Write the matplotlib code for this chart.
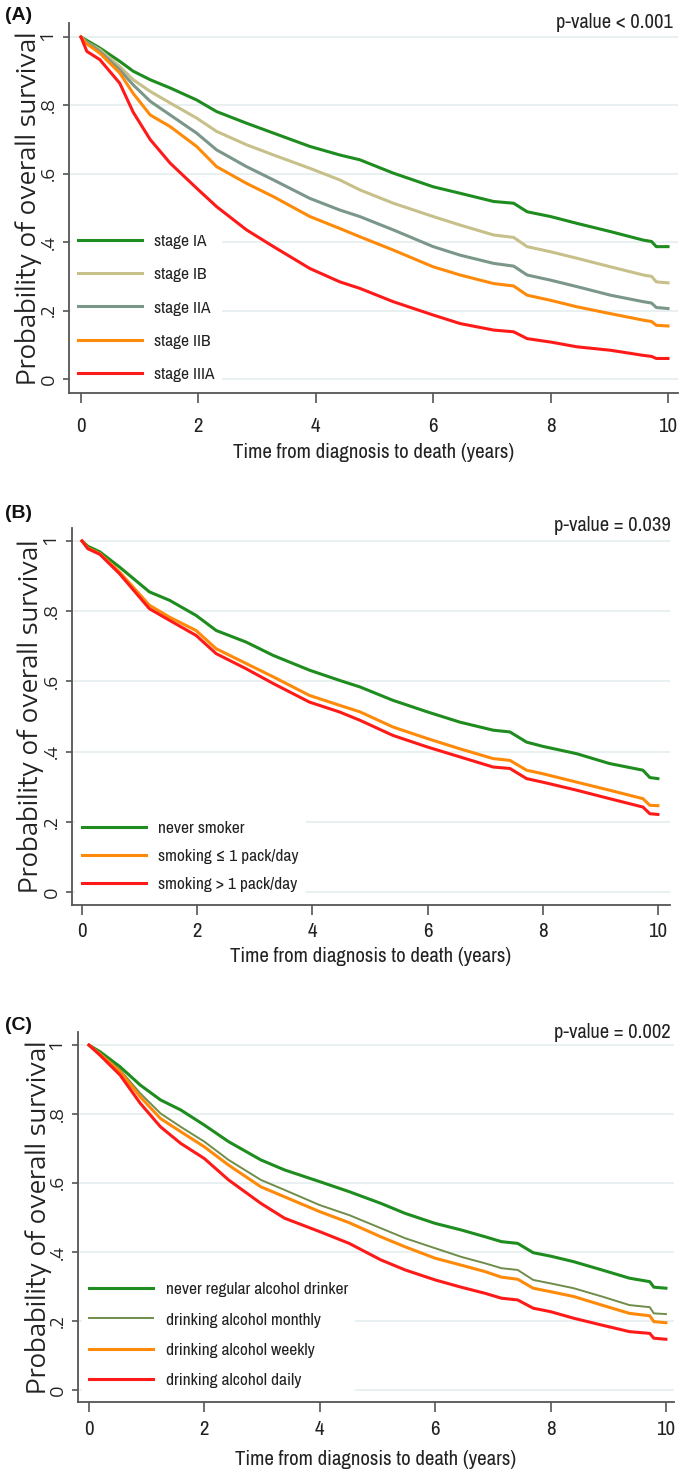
import matplotlib
matplotlib.use("Agg")
import matplotlib.pyplot as plt

# ---- data ----
x_ticks = [0, 2, 4, 6, 8, 10]
y_ticks = [0, 0.2, 0.4, 0.6, 0.8, 1.0]
y_tick_labels = ["0", ".2", ".4", ".6", ".8", "1"]

# panel A: stage
t_a = [0, 0.1, 0.32, 0.66, 0.89, 1.18, 1.52, 1.97, 2.31, 2.82, 3.28, 3.9, 4.41,
       4.75, 5.32, 6.0, 6.46, 7.03, 7.37, 7.6, 8.0, 8.45, 9.02, 9.58, 9.72, 9.8, 10.0]
stage_ia = [1, 0.99, 0.968, 0.929, 0.90, 0.875, 0.851, 0.816, 0.782, 0.748, 0.719, 0.680, 0.655,
            0.641, 0.602, 0.562, 0.543, 0.519, 0.514, 0.489, 0.475, 0.455, 0.431, 0.406, 0.402, 0.387, 0.387]
stage_ib = [1, 0.985, 0.963, 0.914, 0.875, 0.841, 0.807, 0.763, 0.724, 0.685, 0.655, 0.616, 0.582,
            0.553, 0.514, 0.475, 0.450, 0.421, 0.414, 0.387, 0.372, 0.353, 0.328, 0.304, 0.300, 0.284, 0.281]
stage_iia = [1, 0.985, 0.958, 0.904, 0.86, 0.812, 0.772, 0.719, 0.670, 0.621, 0.582, 0.528, 0.494,
             0.475, 0.436, 0.387, 0.362, 0.338, 0.330, 0.304, 0.289, 0.270, 0.245, 0.226, 0.222, 0.209, 0.206]
stage_iib = [1, 0.98, 0.953, 0.895, 0.835, 0.772, 0.738, 0.680, 0.621, 0.572, 0.533, 0.475, 0.440,
             0.416, 0.377, 0.328, 0.304, 0.279, 0.272, 0.245, 0.230, 0.211, 0.191, 0.172, 0.168, 0.157, 0.155]
stage_iiia = [1, 0.958, 0.934, 0.865, 0.780, 0.700, 0.631, 0.558, 0.504, 0.436, 0.387, 0.323, 0.284,
              0.265, 0.226, 0.187, 0.162, 0.143, 0.138, 0.118, 0.108, 0.094, 0.084, 0.069, 0.066, 0.060, 0.060]

# panel B: smoking
t_b = [0, 0.1, 0.31, 0.65, 1.17, 1.52, 1.98, 2.33, 2.85, 3.32, 3.95, 4.47, 4.83,
       5.40, 6.0, 6.56, 7.14, 7.43, 7.72, 8.0, 8.59, 9.16, 9.74, 9.86, 10.0]
never_smoker = [1, 0.985, 0.969, 0.926, 0.855, 0.831, 0.788, 0.745, 0.712, 0.674, 0.632, 0.603, 0.584,
                0.546, 0.513, 0.484, 0.461, 0.456, 0.427, 0.415, 0.394, 0.366, 0.347, 0.326, 0.323]
smoke_le1 = [1, 0.98, 0.964, 0.912, 0.817, 0.783, 0.745, 0.693, 0.651, 0.613, 0.560, 0.532, 0.513,
             0.470, 0.437, 0.408, 0.380, 0.375, 0.347, 0.337, 0.313, 0.290, 0.266, 0.247, 0.246]
smoke_gt1 = [1, 0.978, 0.962, 0.907, 0.807, 0.774, 0.731, 0.679, 0.636, 0.594, 0.541, 0.513, 0.489,
             0.446, 0.413, 0.385, 0.356, 0.352, 0.323, 0.313, 0.290, 0.266, 0.242, 0.223, 0.221]

# panel C: alcohol
t_c = [0, 0.19, 0.54, 0.89, 1.24, 1.59, 2.0, 2.42, 2.98, 3.39, 4.0, 4.51, 5.06, 5.48,
       6.0, 6.45, 6.87, 7.15, 7.43, 7.70, 8.0, 8.4, 8.89, 9.37, 9.72, 9.79, 10.0]
never_drinker = [1, 0.981, 0.937, 0.884, 0.841, 0.812, 0.768, 0.720, 0.667, 0.638, 0.604, 0.575, 0.541, 0.512,
                 0.483, 0.464, 0.444, 0.430, 0.425, 0.398, 0.388, 0.372, 0.348, 0.324, 0.314, 0.298, 0.295]
alc_monthly = [1, 0.976, 0.928, 0.860, 0.802, 0.763, 0.720, 0.667, 0.609, 0.580, 0.536, 0.507, 0.469, 0.440,
               0.411, 0.386, 0.367, 0.353, 0.348, 0.319, 0.309, 0.295, 0.271, 0.246, 0.240, 0.222, 0.220]
alc_weekly = [1, 0.974, 0.923, 0.850, 0.787, 0.749, 0.705, 0.652, 0.589, 0.560, 0.517, 0.485, 0.444, 0.415,
              0.382, 0.362, 0.343, 0.327, 0.321, 0.295, 0.285, 0.271, 0.246, 0.222, 0.215, 0.198, 0.195]
alc_daily = [1, 0.971, 0.913, 0.831, 0.763, 0.715, 0.671, 0.609, 0.541, 0.498, 0.459, 0.425, 0.377, 0.348,
             0.319, 0.298, 0.280, 0.266, 0.261, 0.237, 0.227, 0.208, 0.188, 0.169, 0.164, 0.150, 0.147]

# ---- style ----
GREEN = "#1e8c1e"
TAN = "#c8c08a"
GRAY = "#7a978a"
ORANGE = "#ff8a0a"
RED = "#ff1a1a"
OLIVE = "#6f8d4a"
SPINE = "#555555"
TXT = "#222222"

NARROW = ["Archivo Narrow", "Roboto Condensed", "DejaVu Sans"]
WIDE = ["Encode Sans Semi Expanded", "DejaVu Sans"]
YLAB = ["Encode Sans Expanded", "Encode Sans Semi Expanded", "DejaVu Sans"]
BOLD = ["Liberation Sans", "DejaVu Sans"]

W, H = 683, 1475
fig = plt.figure(figsize=(W / 100, H / 100), dpi=100)


def add_axes(l, r, t, b):
    return fig.add_axes([l / W, 1 - b / H, (r - l) / W, (b - t) / H])


def style(ax, xlim, ylim, xpad, ylab_x, xlab_y):
    ax.set_xlim(*xlim)
    ax.set_ylim(*ylim)
    for s in ["top", "right"]:
        ax.spines[s].set_visible(False)
    for s in ["left", "bottom"]:
        ax.spines[s].set_color(SPINE)
        ax.spines[s].set_linewidth(1.3)
    ax.set_xticks(x_ticks)
    ax.set_xticklabels([str(v) for v in x_ticks], fontfamily=NARROW, fontsize=15, color=TXT)
    ax.set_yticks(y_ticks)
    ax.set_yticklabels(y_tick_labels, rotation=90, va="center", fontfamily=WIDE,
                       fontsize=12.5, color=TXT)
    ax.tick_params(axis="x", length=7, width=1.2, color=SPINE, pad=xpad)
    ax.tick_params(axis="y", length=4, width=1.2, color=SPINE, pad=4)
    ax.grid(axis="y", color="#e6eff1", lw=1.3)
    ax.set_axisbelow(True)
    ax.set_xlabel("Time from diagnosis to death (years)", fontfamily=NARROW,
                  fontsize=15, color=TXT, va="top")
    ax.xaxis.set_label_coords(0.5, xlab_y)
    ax.set_ylabel("Probability of overall survival", fontfamily=YLAB,
                  fontsize=17.5, color=TXT, va="center")
    ax.yaxis.set_label_coords(ylab_x, 0.5)


def legend(ax, anchor, spacing):
    leg = ax.legend(loc="lower left", bbox_to_anchor=anchor, borderaxespad=0,
                    frameon=True, facecolor="white", edgecolor="none", framealpha=1,
                    fancybox=False, handlelength=3.7, handletextpad=0.7,
                    labelspacing=spacing, borderpad=0.4,
                    prop={"family": NARROW, "size": 12.5})
    for tx in leg.get_texts():
        tx.set_color(TXT)
    return leg


def panel_text(letter, y_letter, pval, x_p, y_p):
    fig.text(5 / W, 1 - y_letter / H, letter, fontfamily=BOLD, fontweight="bold",
             fontsize=14, va="center", ha="left", color="#111111")
    fig.text(x_p / W, 1 - y_p / H, pval, fontfamily=NARROW, fontsize=14.8,
             va="center", ha="right", color=TXT)


# panel A
ax = add_axes(69, 678, 23, 393)
ax.plot(t_a, stage_ia, color=GREEN, lw=2.2, label="stage IA")
ax.plot(t_a, stage_ib, color=TAN, lw=2.2, label="stage IB")
ax.plot(t_a, stage_iia, color=GRAY, lw=2.2, label="stage IIA")
ax.plot(t_a, stage_iib, color=ORANGE, lw=2.2, label="stage IIB")
ax.plot(t_a, stage_iiia, color=RED, lw=2.2, label="stage IIIA")
style(ax, (-0.204, 10.17), (-0.041, 1.041), 10, -0.067, -0.135)
legend(ax, (0.003, 0.011), 1.04)
panel_text("(A)", 16, "p-value < 0.001", 673, 23)

# panel B
ax = add_axes(72, 670, 528, 905)
ax.plot(t_b, never_smoker, color=GREEN, lw=2.2, label="never smoker")
ax.plot(t_b, smoke_le1, color=ORANGE, lw=2.2, label="smoking \u2264 1 pack/day")
ax.plot(t_b, smoke_gt1, color=RED, lw=2.2, label="smoking > 1 pack/day")
style(ax, (-0.174, 10.21), (-0.037, 1.037), 5.5, -0.070, -0.111)
legend(ax, (0.005, 0.016), 0.75)
panel_text("(B)", 513, "p-value = 0.039", 671, 526)

# panel C
ax = add_axes(78, 674, 1032, 1402)
ax.plot(t_c, never_drinker, color=GREEN, lw=2.2, label="never regular alcohol drinker")
ax.plot(t_c, alc_monthly, color=OLIVE, lw=1.4, label="drinking alcohol monthly")
ax.plot(t_c, alc_weekly, color=ORANGE, lw=2.2, label="drinking alcohol weekly")
ax.plot(t_c, alc_daily, color=RED, lw=2.2, label="drinking alcohol daily")
style(ax, (-0.19, 10.14), (-0.035, 1.038), 6, -0.067, -0.130)
legend(ax, (0.007, 0.019), 0.87)
panel_text("(C)", 1026, "p-value = 0.002", 671, 1032)

fig.savefig("out.png", dpi=100, facecolor="white")
